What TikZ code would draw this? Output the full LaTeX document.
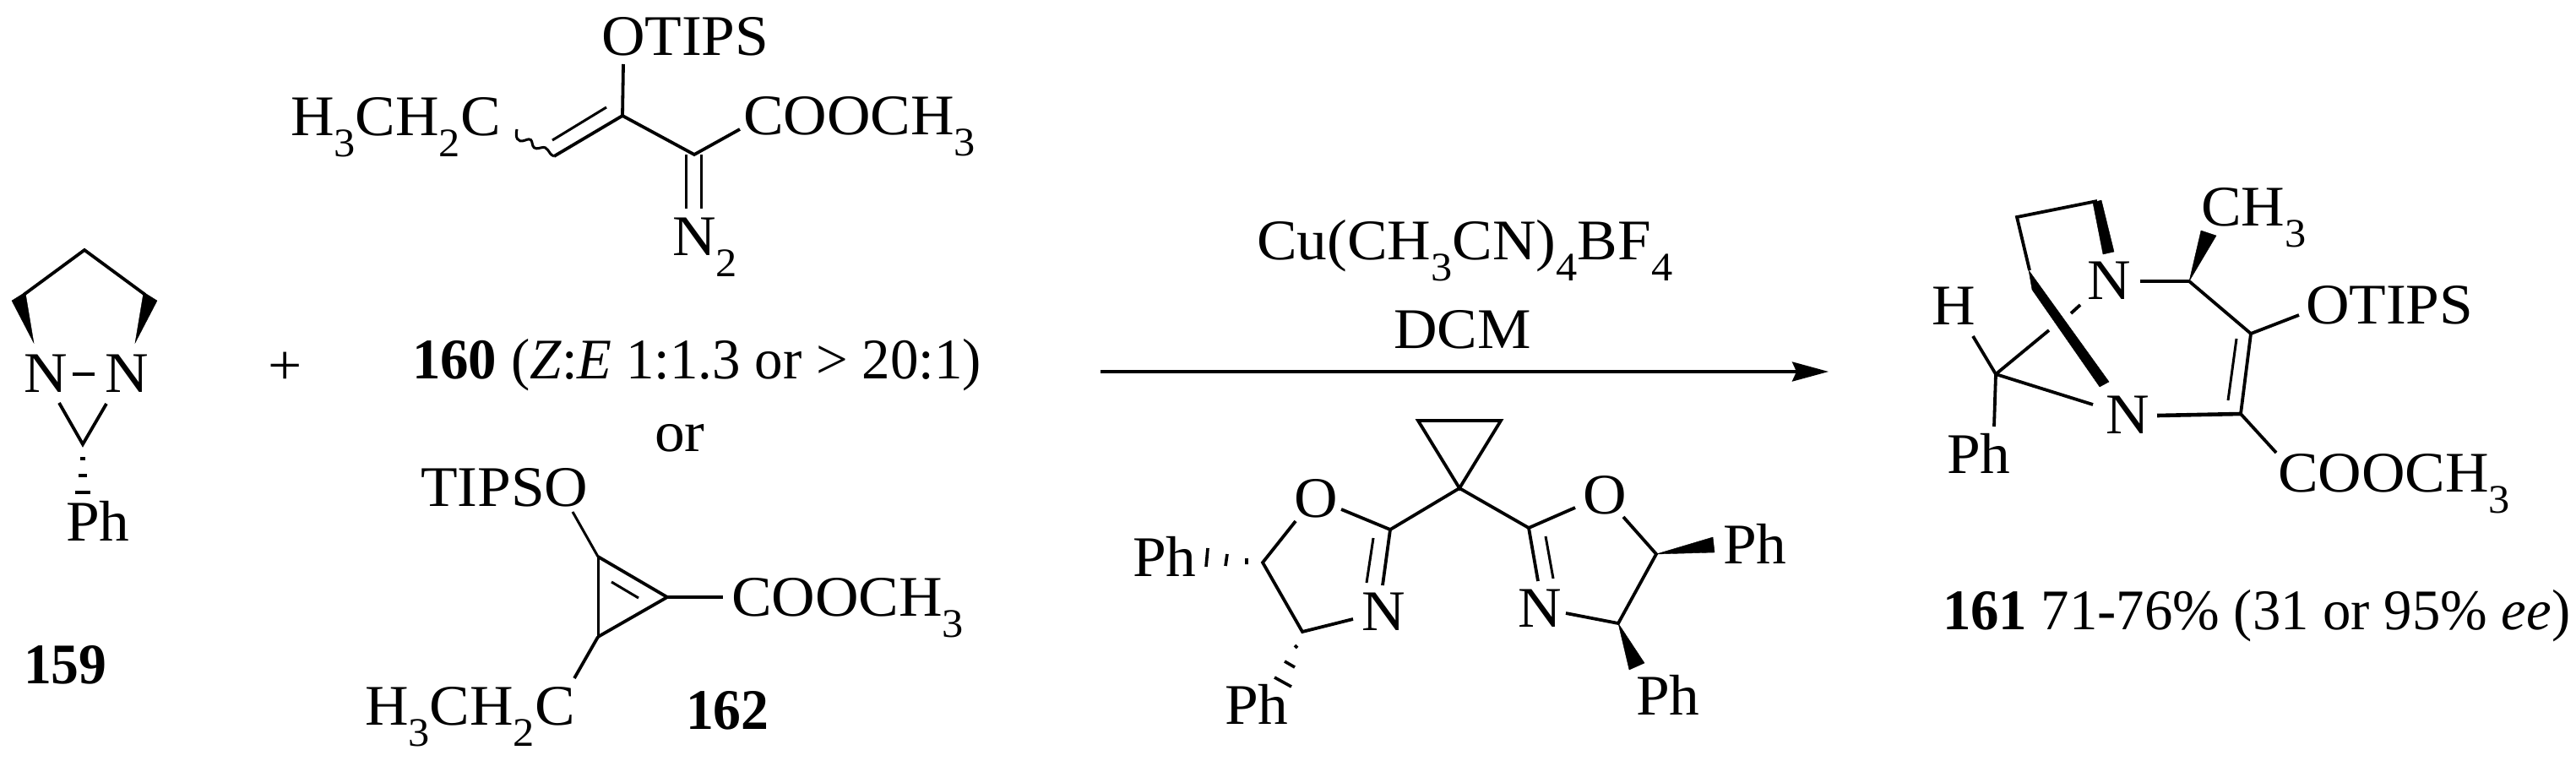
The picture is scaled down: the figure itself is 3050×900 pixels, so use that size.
\documentclass[tikz,border=0pt]{standalone}
\usepackage{fontspec}
\usepackage{graphicx}
\setmainfont[FakeStretch=1.05]{Liberation Serif}
\usetikzlibrary{arrows.meta}
\tikzset{
  x=0.5pt,y=-0.5pt,
  bond/.style={line width=1.9pt,black},
  thin bond/.style={line width=1.5pt,black},
  chem/.style={anchor=base west,inner sep=0pt,outer sep=0pt,font=\fontsize{34}{40}\selectfont},
  wedgefill/.style={fill=black,draw=black,line width=0.2pt},
  hashline/.style={line width=1.8pt,black},
}
\newcommand{\tsub}[1]{\raisebox{-0.38em}{\fontsize{24}{26}\selectfont #1}}
\newcommand{\narrow}[2]{\scalebox{#1}[1]{#2}}
\begin{document}
\begin{tikzpicture}
\useasboundingbox (0,0) rectangle (3050,900);
% ---------- 159 ----------
\coordinate (a1) at (100,296);\coordinate (a2) at (28,349);\coordinate (a3) at (172,349);
\draw[bond] (a2)--(a1)--(a3);
\fill[wedgefill] (40,406)--(14,356)--(30,346)--cycle;
\fill[wedgefill] (160,406)--(170,346)--(186,356)--cycle;
\node[chem] (n1) at (28,464) {N};
\node[chem] (n2) at (124,464) {N};
\draw[line width=2.4pt] (86,443)--(112,443);
\coordinate (a4) at (98,526);
\draw[bond] (70,477)--(a4)--(126,478);
\draw[hashline] (95,543)--(101,543) (93,563)--(103,563) (89,583)--(107,583);
\node[chem] (ph159) at (78,640) {Ph};
\node[chem] (l159) at (28,809) {\narrow{0.92}{\textbf{159}}};
\node[chem] (plus) at (338,455) [anchor=base] {+};
% ---------- 160 ----------
\node[chem] (otips1) at (712,65) {OTIPS};
\node[chem] (et1) at (344,160) {H\tsub{3}CH\tsub{2}C};
\node[chem] (coo1) at (880,159) {COOCH\tsub{3}};
\node[chem] (n21) at (796,302) {N\tsub{2}};
\coordinate (b1) at (737,137);\coordinate (b2) at (822,183);\coordinate (b3) at (656,185);
\draw[bond] (738,76)--(b1)--(b2)--(876,153);
\draw[bond] (b1)--(b3);
\draw[thin bond] (718,127)--(654,166);
\draw[thin bond] (812,183)--(812,247) (830,183)--(830,247);
\draw[thin bond] (612,153) .. controls (610,162) and (612,170) .. (622,166) .. controls (636,160) and (624,180) .. (640,175) .. controls (650,172) and (648,182) .. (b3);
\node[chem] (l160) at (488,448) {\narrow{0.937}{\textbf{160} (\textit{Z}:\textit{E} 1:1.3 or > 20:1)}};
\node[chem] (or) at (775,534) {or};
% ---------- 162 ----------
\node[chem] (tipso) at (498,599) {TIPSO};
\coordinate (c1) at (708,659);\coordinate (c2) at (790,707);\coordinate (c3) at (708,754);
\draw[thin bond] (678,606)--(c1);
\draw[thin bond] (c1)--(c3);
\draw[bond] (c1)--(c2)--(c3);
\draw[thin bond] (724,689)--(756,708);
\draw[line width=2.4pt] (c2)--(856,707);
\draw[bond] (c3)--(680,803);
\node[chem] (coo2) at (866,729) {COOCH\tsub{3}};
\node[chem] (et2) at (432,858) {H\tsub{3}CH\tsub{2}C};
\node[chem] (l162) at (812,863) {\narrow{0.92}{\textbf{162}}};
% ---------- reagents and arrow ----------
\node[chem] (cu) at (1488,307) {Cu(CH\tsub{3}CN)\tsub{4}BF\tsub{4}};
\node[chem] (dcm) at (1650,412) {DCM};
\coordinate (ar1) at (1303,440);\coordinate (ar2) at (2165,440);
\draw[line width=1.7pt,-{Stealth[length=21.5pt,width=11.5pt,inset=2.5pt]}] (ar1)--(ar2);
% ---------- ligand ----------
\coordinate (p1) at (1679,498);\coordinate (p2) at (1777,498);\coordinate (p3) at (1728,578);
\draw[bond,line join=miter] (p1)--(p2)--(p3)--cycle;
\coordinate (lc) at (1646,627);\coordinate (rc) at (1810,625);
\draw[bond] (lc)--(p3)--(rc);
\node[chem] (lo) at (1532,612) {O};
\node[chem] (ro) at (1874,608) {O};
\node[chem] (ln) at (1612,746) {N};
\node[chem] (rn) at (1797,742) {N};
\coordinate (l1) at (1495,666);\coordinate (l2) at (1542,748);
\draw[bond] (lc)--(1588,603);
\draw[bond] (1534,617)--(l1)--(l2)--(1602,733);
\draw[bond] (lc)--(1637,693);
\draw[thin bond] (1626,637)--(1618,690);
\coordinate (r1) at (1961,656);\coordinate (r2) at (1916,738);
\draw[bond] (rc)--(1865,601);
\draw[bond] (1922,612)--(r1)--(r2)--(1854,726);
\draw[bond] (rc)--(1821,688);
\draw[thin bond] (1830,635)--(1839,685);
\node[chem] (ph1) at (1341,682) {Ph};
\node[chem] (ph2) at (1450,857) {Ph};
\node[chem] (ph3) at (2040,667) {Ph};
\node[chem] (ph4) at (1937,846) {Ph};
\draw[hashline] (1430,649)--(1428,671) (1453,656)--(1451,670) (1476,661)--(1476,668);
\draw[hashline] (1533,764)--(1536,767) (1521,783)--(1533,790) (1509,802)--(1529,813);
\fill[wedgefill] (r1)--(2028,636)--(2030,654)--cycle;
\fill[wedgefill] (r2)--(1947,785)--(1929,793)--cycle;
% ---------- 161 ----------
\coordinate (d1) at (2388,257);\coordinate (d2) at (2483,238);\coordinate (d3) at (2403,320);
\draw[bond] (d2)--(d1)--(d3);
\fill[wedgefill] (2478,240)--(2488,237)--(2503,298)--(2490,301)--cycle;
\fill[wedgefill] (2402,320)--(2406,343)--(2486,458)--(2497,452)--cycle;
\node[chem] (pn1) at (2471,354) {N};
\node[chem] (pn2) at (2493,513) {N};
\node[chem] (ph) at (2287,384) {H};
\node[chem] (pph) at (2305,560) {Ph};
\node[chem] (pch3) at (2606,267) {CH\tsub{3}};
\node[chem] (potips) at (2730,383) {OTIPS};
\node[chem] (pcoo) at (2697,582) {COOCH\tsub{3}};
\coordinate (e1) at (2363,443);\coordinate (e2) at (2592,333);\coordinate (e3) at (2665,395);\coordinate (e4) at (2653,490);
\draw[bond] (2452,371)--(2463,361);
\draw[bond] (e1)--(2426,391);
\draw[bond] (2336,398)--(e1)--(2478,479);
\draw[bond] (e1)--(2361,505);
\draw[line width=2.3pt] (2534,333)--(e2);
\draw[bond] (e2)--(e3)--(2722,373);
\draw[bond] (e3)--(e4);
\draw[thin bond] (2648,401)--(2638,474);
\draw[line width=2.3pt] (e4)--(2554,492);
\draw[bond] (e4)--(2695,536);
\fill[wedgefill] (e2)--(2606,273)--(2624,279)--cycle;
\node[chem] (l161) at (2300,745) {\narrow{0.935}{\textbf{161} 71-76\% (31 or 95\% \textit{ee})}};
\end{tikzpicture}
\end{document}
